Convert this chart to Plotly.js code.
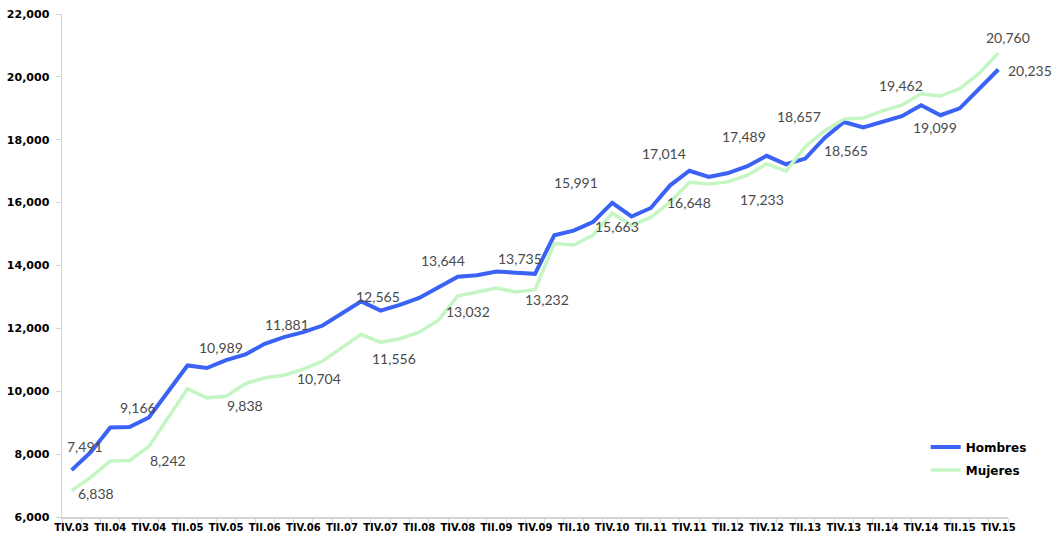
<!DOCTYPE html>
<html>
<head>
<meta charset="utf-8">
<script src="https://cdn.plot.ly/plotly-3.0.1.min.js"></script>
<style>html,body{margin:0;padding:0;background:#fff}#chart{width:1064px;height:542px}</style>
</head>
<body>
<div id="chart"></div>
<script>
// Quarterly categories (TIV.03 .. TIV.15)
const quarters = [
  "TIV.03",
  "TI.04","TII.04","TIII.04","TIV.04",
  "TI.05","TII.05","TIII.05","TIV.05",
  "TI.06","TII.06","TIII.06","TIV.06",
  "TI.07","TII.07","TIII.07","TIV.07",
  "TI.08","TII.08","TIII.08","TIV.08",
  "TI.09","TII.09","TIII.09","TIV.09",
  "TI.10","TII.10","TIII.10","TIV.10",
  "TI.11","TII.11","TIII.11","TIV.11",
  "TI.12","TII.12","TIII.12","TIV.12",
  "TI.13","TII.13","TIII.13","TIV.13",
  "TI.14","TII.14","TIII.14","TIV.14",
  "TI.15","TII.15","TIII.15","TIV.15"
];
// Tick labels shown on the axis (every other quarter)
const shownTicks = ["TIV.03","TII.04","TIV.04","TII.05","TIV.05","TII.06","TIV.06","TII.07","TIV.07",
  "TII.08","TIV.08","TII.09","TIV.09","TII.10","TIV.10","TII.11","TIV.11","TII.12","TIV.12",
  "TII.13","TIV.13","TII.14","TIV.14","TII.15","TIV.15"];

const hombres = [
  7491,
  8070, 8850, 8860, 9166,
  10000, 10820, 10740, 10989,
  11170, 11510, 11720, 11881,
  12090, 12470, 12860, 12565,
  12750, 12970, 13310, 13644,
  13690, 13810, 13770, 13735,
  14960, 15110, 15380, 15991,
  15560, 15830, 16550, 17014,
  16820, 16940, 17160, 17489,
  17220, 17400, 18060, 18565,
  18390, 18570, 18750, 19099,
  18780, 19000, 19630, 20235
];
const mujeres = [
  6838,
  7270, 7780, 7800, 8242,
  9180, 10080, 9790, 9838,
  10240, 10430, 10510, 10704,
  10960, 11390, 11810, 11556,
  11670, 11880, 12260, 13032,
  13160, 13280, 13160, 13232,
  14700, 14650, 14960, 15663,
  15280, 15530, 16020, 16648,
  16590, 16660, 16870, 17233,
  17000, 17780, 18280, 18657,
  18690, 18920, 19100, 19462,
  19390, 19630, 20110, 20760
];
// Labelled quarters (TIV of each year)
const labelled = ["TIV.03","TIV.04","TIV.05","TIV.06","TIV.07","TIV.08","TIV.09","TIV.10","TIV.11","TIV.12","TIV.13","TIV.14","TIV.15"];

// label pixel offsets [dx, dy(down)]
const offH = [[13,-24],[-11,-10],[-5,-13],[-16,-8],[-3,-14],[-15,-16],[-15,-15],[-36,-20],[-25,-17],[-23,-19],[2,29],[14,22],[32,1]];
const offM = [[24,3],[19,14],[19,9],[16,9],[13,16],[10,16],[12,10],[5,13],[0,20],[-5,36],[-45,-3],[-20,-8],[10,-15]];

const fmt = v => v.toLocaleString('en-US');
const annotations = [];
labelled.forEach((q, k) => {
  const i = quarters.indexOf(q);
  annotations.push({x:q, y:hombres[i], text:fmt(hombres[i]), showarrow:false, xanchor:'center', yanchor:'middle',
    xshift:offH[k][0], yshift:-offH[k][1], font:{family:'Lato', size:14, color:'#4a4a4a'}});
  annotations.push({x:q, y:mujeres[i], text:fmt(mujeres[i]), showarrow:false, xanchor:'center', yanchor:'middle',
    xshift:offM[k][0], yshift:-offM[k][1], font:{family:'Lato', size:14, color:'#4a4a4a'}});
});

const traces = [
  {x:quarters, y:hombres, name:'Hombres', type:'scatter', mode:'lines', legendgroup:'h',
   line:{color:'#3a62f4', width:4}, hoverinfo:'skip'},
  {x:quarters, y:mujeres, name:'Mujeres', type:'scatter', mode:'lines', legendgroup:'m',
   line:{color:'#c4f6c4', width:3.5}, hoverinfo:'skip'}
];

const axisGray = '#d4d4d4';
const layout = {
  width:1064, height:542, autosize:false,
  margin:{l:62, r:56, t:14, b:25},
  paper_bgcolor:'#ffffff', plot_bgcolor:'#ffffff',
  showlegend:true,
  legend:{x:0.913, y:0.168, xanchor:'left', yanchor:'top', bgcolor:'rgba(0,0,0,0)',
    traceorder:'grouped', tracegroupgap:4,
    font:{family:'DejaVu Sans', size:12, weight:'bold', color:'#000'}},
  xaxis:{type:'category', range:[-0.5, quarters.length-0.5],
    tickmode:'array', tickvals:quarters, ticktext:quarters.map(q => shownTicks.includes(q) ? q : ''),
    tickson:'boundaries', ticks:'outside', ticklen:4, tickwidth:1, tickcolor:axisGray,
    showline:true, linecolor:axisGray, linewidth:1.5, showgrid:false, zeroline:false,
    tickangle:0, automargin:false,
    tickfont:{family:'DejaVu Sans', size:10, weight:'bold', color:'#000'}},
  yaxis:{range:[6000,22000], tickmode:'array', tickvals:[6000,8000,10000,12000,14000,16000,18000,20000,22000],
    tickformat:',', ticks:'outside', ticklen:5, tickwidth:1, tickcolor:axisGray,
    showline:true, linecolor:axisGray, linewidth:1.5, showgrid:false, zeroline:false, automargin:false,
    ticklabelstandoff:4,
    tickfont:{family:'DejaVu Sans', size:11, weight:'bold', color:'#000'}},
  annotations: annotations
};

Plotly.newPlot('chart', traces, layout, {displayModeBar:false, staticPlot:true});
</script>
</body>
</html>
